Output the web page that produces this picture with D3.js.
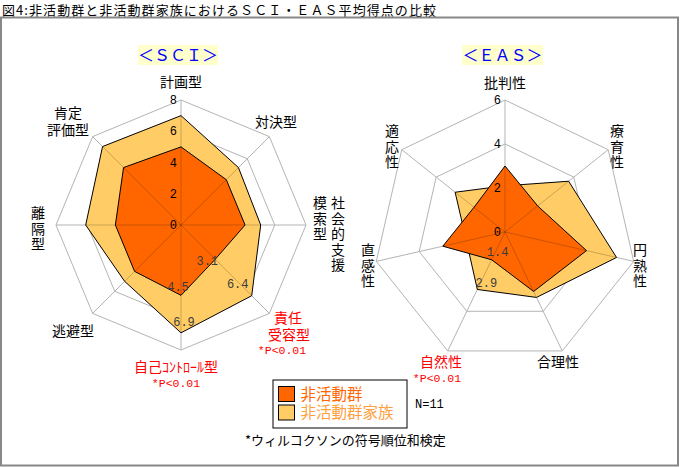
<!DOCTYPE html>
<html><head><meta charset="utf-8">
<script src="https://cdn.jsdelivr.net/npm/d3@7"></script>
<style>
html,body{margin:0;padding:0;background:#fff;}
svg{display:block;}
</style></head>
<body>
<svg id="c" width="680" height="467"></svg>
<script>
// ---- data ----
const sciAxes = ["計画型","対決型","社会的支援模索型","責任受容型","自己ｺﾝﾄﾛｰﾙ型","逃避型","離隔型","肯定評価型"];
const sciGroup  = [5.0, 4.1, 4.1, 3.1, 4.5, 4.2, 4.2, 5.2];
const sciFamily = [7.0, 5.2, 5.1, 6.4, 6.9, 5.1, 6.1, 7.1];
const sciTicks = [0, 2, 4, 6, 8];
const sciSignificant = ["責任受容型", "自己ｺﾝﾄﾛｰﾙ型"];

const easAxes = ["批判性","療育性","円熟性","合理性","自然性","直感性","適応性"];
const easGroup  = [3.0, 1.9, 3.8, 3.0, 1.4, 2.9, 1.8];
const easFamily = [2.1, 3.7, 5.2, 3.3, 2.9, 1.8, 2.9];
const easTicks = [0, 2, 4, 6];
const easSignificant = ["自然性"];

const seriesNames = ["非活動群", "非活動群家族"];
const pNote = "*P<0.01";
const title = "図4:非活動群と非活動群家族におけるＳＣＩ・ＥＡＳ平均得点の比較";
const footnote = "*ウィルコクソンの符号順位和検定";
const nNote = "N=11";

// ---- styles ----
const JP = "'Noto Sans CJK JP','Noto Sans',sans-serif";
const MONO = "'Liberation Mono','DejaVu Sans Mono',monospace";
const cDark = "#ff6600", cLight = "#ffcc66";
const svg = d3.select("#c");

svg.append("text").attr("x", 2).attr("y", 15).attr("font-family", JP).attr("font-size", 13)
  .attr("textLength", 434).attr("lengthAdjust", "spacing")
  .attr("fill", "#000").text(title);
svg.append("rect").attr("x", 1).attr("y", 17.5).attr("width", 677).attr("height", 448)
  .attr("fill", "none").attr("stroke", "#888").attr("stroke-width", 2);

function radar(cfg) {
  const g = svg.append("g").attr("transform", `translate(${cfg.cx},${cfg.cy})`);
  const n = cfg.axes.length;
  const ang = d3.scaleLinear().domain([0, n]).range([0, 2 * Math.PI]);
  const r = d3.scaleLinear().domain([0, cfg.max]).range([0, cfg.R]);
  const line = d3.lineRadial().angle((d, i) => ang(i)).radius(d => r(d)).curve(d3.curveLinearClosed);
  const pt = (i, v) => [Math.sin(ang(i)) * r(v), -Math.cos(ang(i)) * r(v)];

  // rings
  g.selectAll(".ring").data(cfg.ticks.filter(t => t > 0)).join("path")
    .attr("d", t => line(cfg.axes.map(() => t)))
    .attr("fill", "none").attr("stroke", "#b4b4b4").attr("stroke-width", 1);
  // spokes
  g.selectAll(".spoke").data(cfg.axes).join("line")
    .attr("x1", 0).attr("y1", 0)
    .attr("x2", (d, i) => pt(i, cfg.max)[0]).attr("y2", (d, i) => pt(i, cfg.max)[1])
    .attr("stroke", "#b4b4b4").attr("stroke-width", 1);

  // polygons
  const series = [{v: cfg.family, c: cLight}, {v: cfg.group, c: cDark}];
  g.selectAll(".poly").data(series).join("path")
    .attr("d", s => line(s.v)).attr("fill", s => s.c)
    .attr("stroke", "#000").attr("stroke-width", 1).attr("stroke-linejoin", "miter");

  // spokes over fill (tinted)
  const clipId = "clip" + cfg.id;
  const cp = g.append("clipPath").attr("id", clipId);
  series.forEach(s => cp.append("path").attr("d", line(s.v)));
  g.append("g").attr("clip-path", `url(#${clipId})`).selectAll("line").data(cfg.axes).join("line")
    .attr("x1", 0).attr("y1", 0)
    .attr("x2", (d, i) => pt(i, cfg.max)[0]).attr("y2", (d, i) => pt(i, cfg.max)[1])
    .attr("stroke", "#000").attr("stroke-opacity", 0.2).attr("stroke-width", 1);

  // tick labels
  g.selectAll(".tk").data(cfg.ticks).join("text")
    .attr("x", -4).attr("y", t => -r(t) + 4).attr("text-anchor", "end")
    .attr("font-family", MONO).attr("font-size", 12).attr("fill", "#000").text(t => t);

  // data labels for significant axes
  const fmt = d3.format(".1f");
  const lab = [];
  cfg.axes.forEach((a, i) => {
    if (cfg.significant.includes(a)) {
      lab.push({i, v: cfg.group[i], off: cfg.labOff[a][0]});
      lab.push({i, v: cfg.family[i], off: cfg.labOff[a][1]});
    }
  });
  g.selectAll(".dl").data(lab).join("text")
    .attr("x", d => pt(d.i, d.v)[0] + d.off[0]).attr("y", d => pt(d.i, d.v)[1] + d.off[1])
    .attr("text-anchor", "middle").attr("font-family", MONO).attr("font-size", 12)
    .attr("fill", "#3c3c3c").text(d => fmt(d.v));

  // title box
  const tb = svg.append("g");
  tb.append("rect").attr("x", cfg.box[0]).attr("y", 45).attr("width", cfg.box[1]).attr("height", 20).attr("fill", "#ffffcc");
  tb.append("text").attr("x", cfg.box[0] + cfg.box[1] / 2).attr("y", 61).attr("text-anchor", "middle")
    .attr("font-family", JP).attr("font-size", 16).attr("fill", "#0000ff").text(cfg.title);

  // category labels
  cfg.axes.forEach((a, i) => {
    const L = cfg.labels[a];
    const sig = cfg.significant.includes(a);
    const col = sig ? "#ff0000" : "#000";
    if (L.v) {
      L.cols.forEach((colText, ci) => {
        svg.append("text").attr("x", L.x[ci]).attr("y", L.y - 7)
          .style("writing-mode", "vertical-rl").style("text-orientation", "upright")
          .attr("letter-spacing", 1.5)
          .attr("font-family", JP).attr("font-size", 14).attr("fill", col).text(colText);
      });
    } else {
      const t = svg.append("text").attr("text-anchor", "middle").attr("font-family", JP)
        .attr("font-size", 14).attr("fill", col);
      L.lines.forEach((s, k) => {
        t.append("tspan").attr("x", L.x[k]).attr("y", L.y + k * 16.5 + 5).text(s);
      });
      if (sig) {
        svg.append("text").attr("x", L.px).attr("y", L.y + L.lines.length * 16.5 + 3)
          .attr("text-anchor", "middle").attr("font-family", MONO).attr("font-size", 11.5)
          .attr("fill", col).text(pNote);
      }
    }
  });
}

radar({
  id: "sci", cx: 181, cy: 225, R: 125, max: 8, axes: sciAxes, group: sciGroup, family: sciFamily,
  ticks: sciTicks, significant: sciSignificant, title: "＜ＳＣＩ＞", box: [138, 80],
  labOff: {"責任受容型": [[-8, 6], [-14, -8]], "自己ｺﾝﾄﾛｰﾙ型": [[-3, -4], [3, -7]]},
  labels: {
    "計画型": {lines: ["計画型"], x: [181], y: 82},
    "対決型": {lines: ["対決型"], x: [276], y: 122},
    "社会的支援模索型": {v: true, cols: ["社会的支援", "模索型"], x: [338, 320], y: 203},
    "責任受容型": {lines: ["責任", "受容型"], x: [288, 289], y: 318, px: 282},
    "自己ｺﾝﾄﾛｰﾙ型": {lines: ["自己ｺﾝﾄﾛｰﾙ型"], x: [176], y: 367, px: 176},
    "逃避型": {lines: ["逃避型"], x: [73], y: 331},
    "離隔型": {v: true, cols: ["離隔型"], x: [38], y: 213},
    "肯定評価型": {lines: ["肯定", "評価型"], x: [68, 68], y: 113}
  }
});

radar({
  id: "eas", cx: 505, cy: 232, R: 132, max: 6, axes: easAxes, group: easGroup, family: easFamily,
  ticks: easTicks, significant: easSignificant, title: "＜ＥＡＳ＞", box: [462, 81],
  labOff: {"自然性": [[6, -4], [9, -2.5]]},
  labels: {
    "批判性": {lines: ["批判性"], x: [505], y: 83},
    "療育性": {v: true, cols: ["療育性"], x: [617], y: 131},
    "円熟性": {v: true, cols: ["円熟性"], x: [640], y: 250},
    "合理性": {lines: ["合理性"], x: [558], y: 362},
    "自然性": {lines: ["自然性"], x: [441], y: 362, px: 437},
    "直感性": {v: true, cols: ["直感性"], x: [368], y: 250},
    "適応性": {v: true, cols: ["適応性"], x: [392], y: 131}
  }
});

// legend
const lg = svg.append("g");
lg.append("rect").attr("x", 273).attr("y", 380).attr("width", 134).attr("height", 48)
  .attr("fill", "#fff").attr("stroke", "#000").attr("stroke-width", 1);
const legColors = [cDark, cLight];
const legText = ["#ff6600", "#ffa040"];
const lt = lg.append("text").attr("font-family", JP).attr("font-size", 15.5);
seriesNames.forEach((s, i) => {
  lg.append("rect").attr("x", 278.5).attr("y", 386.5 + i * 18.5).attr("width", 16).attr("height", 15)
    .attr("fill", legColors[i]).attr("stroke", "#000").attr("stroke-width", 1);
  lt.append("tspan").attr("x", 300.5).attr("y", 399.5 + i * 18.5).attr("fill", legText[i]).text(s);
});
svg.append("text").attr("x", 415).attr("y", 408).attr("font-family", MONO).attr("font-size", 12)
  .attr("fill", "#000").text(nNote);
svg.append("text").attr("x", 245).attr("y", 445).attr("font-family", JP).attr("font-size", 13)
  .attr("fill", "#000").text(footnote);
</script>
</body></html>
